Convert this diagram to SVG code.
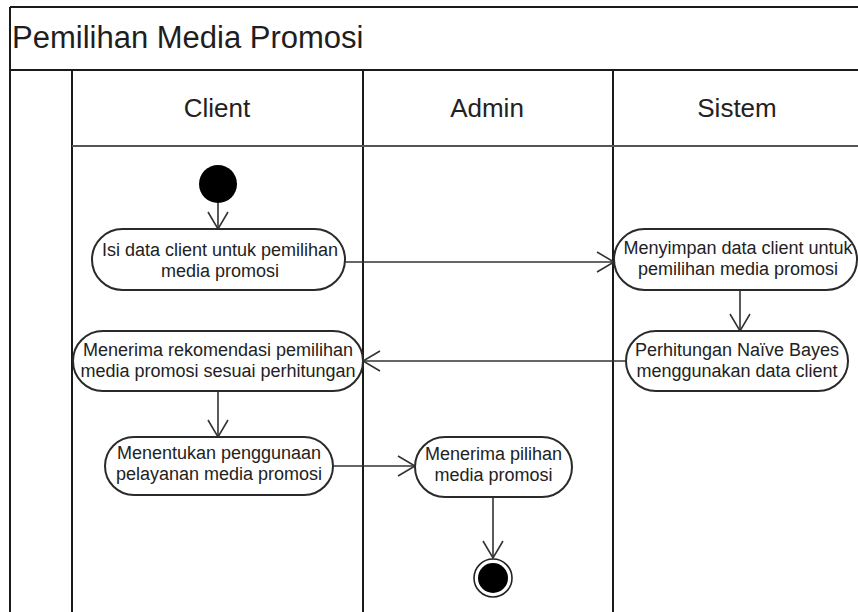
<svg xmlns="http://www.w3.org/2000/svg" width="858" height="612" viewBox="0 0 858 612">
  <style>
    .frame { stroke: #1a1a1a; stroke-width: 2; fill: none; }
    .sep { stroke: #555; stroke-width: 2.2; fill: none; }
    .title { font-family: "Liberation Sans", Arial, sans-serif; font-size: 31px; fill: #1e1e1e; }
    .lane { font-family: "Liberation Sans", Arial, sans-serif; font-size: 26px; fill: #222; text-anchor: middle; }
    .act { fill: #fff; stroke: #2a2a2a; stroke-width: 2; }
    .lbl { font-family: "Liberation Sans", Arial, sans-serif; font-size: 18px; fill: #222; text-anchor: middle; }
    .flow { stroke: #333; stroke-width: 1.6; fill: none; marker-end: url(#open); }
  </style>
  <defs>
    <marker id="open" markerUnits="userSpaceOnUse" markerWidth="24" markerHeight="24" viewBox="-20 -12 22 24" refX="0" refY="0" orient="auto">
      <path d="M -17 -10 L 0 0 L -17 10" fill="none" stroke="#333" stroke-width="1.6"/>
    </marker>
  </defs>

  <rect width="858" height="612" fill="#fff"/>

  <!-- frame and swimlanes -->
  <g id="frame">
    <line class="frame" x1="10" y1="7" x2="858" y2="7"/>
    <line class="frame" x1="10" y1="7" x2="10" y2="612"/>
    <line class="frame" x1="10" y1="70" x2="858" y2="70" stroke-width="2.5"/>
    <text class="title" x="12" y="48">Pemilihan Media Promosi</text>
  </g>
  <g id="lanes">
    <line class="frame" x1="72" y1="70" x2="72" y2="612"/>
    <line class="frame" x1="363" y1="70" x2="363" y2="612"/>
    <line class="frame" x1="613" y1="70" x2="613" y2="612"/>
    <line class="sep" x1="72" y1="146" x2="858" y2="146"/>
    <text class="lane" x="217" y="117">Client</text>
    <text class="lane" x="487" y="117">Admin</text>
    <text class="lane" x="737" y="117">Sistem</text>
  </g>

  <!-- connectors -->
  <g id="connectors">
    <line class="flow" x1="218" y1="203" x2="218" y2="229"/>
    <line class="flow" x1="345" y1="262" x2="614" y2="262"/>
    <line class="flow" x1="740" y1="290" x2="740" y2="331"/>
    <line class="flow" x1="626" y1="361" x2="363" y2="361"/>
    <line class="flow" x1="218" y1="391" x2="218" y2="437"/>
    <line class="flow" x1="333" y1="466" x2="415" y2="466"/>
    <line class="flow" x1="493" y1="497" x2="493" y2="558"/>
  </g>

  <g id="start">
    <circle cx="218" cy="184" r="19" fill="#000"/>
  </g>

  <g id="isi-data">
    <rect class="act" x="92" y="229" width="253" height="61" rx="30.5"/>
    <text class="lbl" x="220" y="256">Isi data client untuk pemilihan</text>
    <text class="lbl" x="220" y="277">media promosi</text>
  </g>

  <g id="menyimpan">
    <rect class="act" x="614" y="229" width="243" height="61" rx="30.5"/>
    <text class="lbl" x="738" y="254">Menyimpan data client untuk</text>
    <text class="lbl" x="738" y="275">pemilihan media promosi</text>
  </g>

  <g id="perhitungan">
    <rect class="act" x="626" y="331" width="222" height="60" rx="30"/>
    <text class="lbl" x="737" y="356">Perhitungan Naïve Bayes</text>
    <text class="lbl" x="737" y="377">menggunakan data client</text>
  </g>

  <g id="menerima-rekomendasi">
    <rect class="act" x="73" y="331" width="290" height="60" rx="30"/>
    <text class="lbl" x="218" y="356">Menerima rekomendasi pemilihan</text>
    <text class="lbl" x="218" y="377">media promosi sesuai perhitungan</text>
  </g>

  <g id="menentukan">
    <rect class="act" x="105" y="437" width="228" height="58" rx="29"/>
    <text class="lbl" x="219" y="459">Menentukan penggunaan</text>
    <text class="lbl" x="219" y="480">pelayanan media promosi</text>
  </g>

  <g id="menerima-pilihan">
    <rect class="act" x="415" y="437" width="157" height="60" rx="30"/>
    <text class="lbl" x="493.5" y="460">Menerima pilihan</text>
    <text class="lbl" x="493.5" y="481">media promosi</text>
  </g>

  <g id="end">
    <circle cx="493" cy="578" r="19" fill="#fff" stroke="#222" stroke-width="1.6"/>
    <circle cx="493" cy="578" r="15" fill="#000"/>
  </g>
</svg>
